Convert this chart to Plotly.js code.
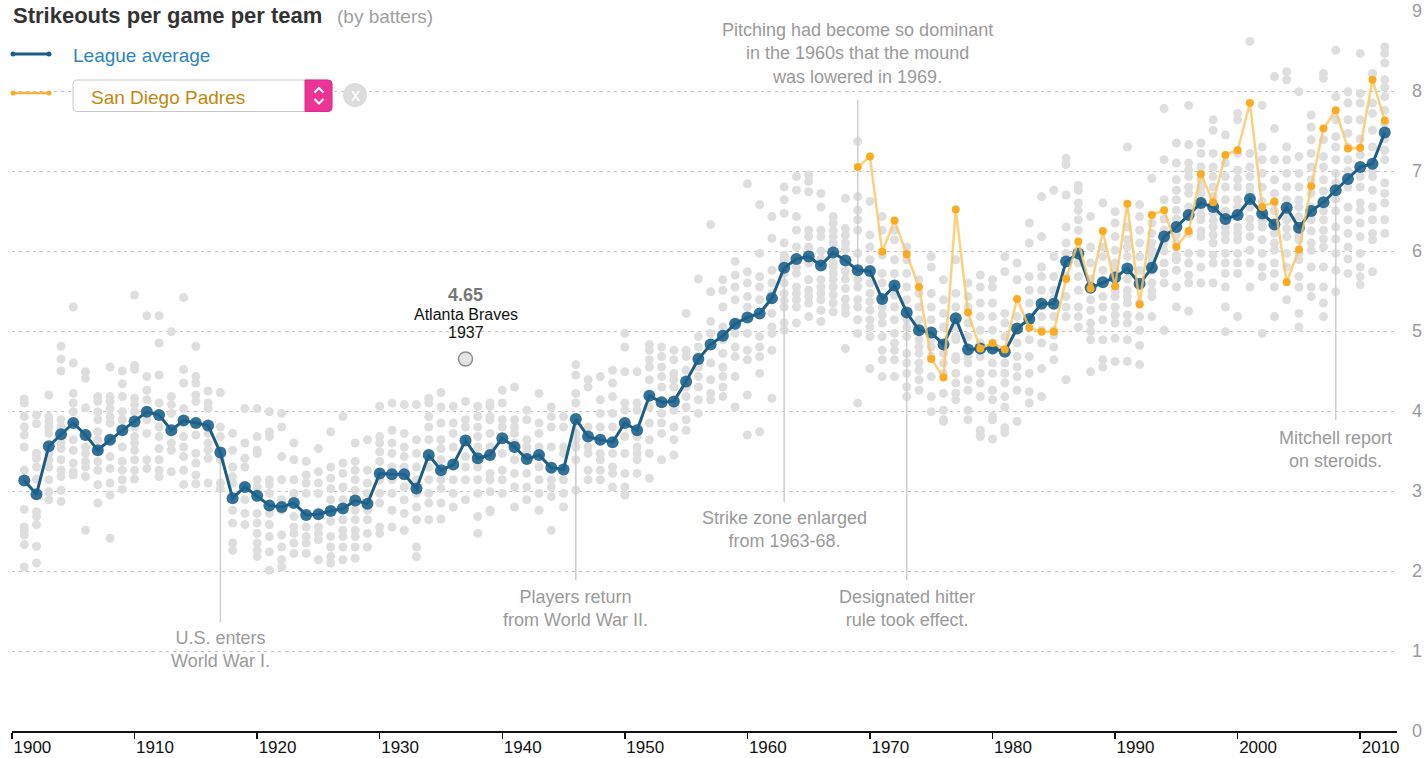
<!DOCTYPE html>
<html><head><meta charset="utf-8">
<script src="https://cdn.plot.ly/plotly-3.0.1.min.js"></script>
<style>html,body{margin:0;padding:0;background:#fff;} #chart{width:1428px;height:758px;}</style>
</head><body><div id="chart"></div>
<script>
// ---------------- DATA ----------------
const leagueStart = 1901;
const leagueAvg = [
 3.13,2.96,3.56,3.71,3.85,3.70,3.51,3.64,3.76,
 3.87,3.99,3.95,3.76,3.88,3.85,3.82,3.48,2.91,3.05,
 2.94,2.82,2.80,2.85,2.70,2.71,2.75,2.78,2.88,2.84,
 3.22,3.21,3.21,3.03,3.45,3.26,3.33,3.63,3.41,3.45,
 3.66,3.55,3.40,3.45,3.29,3.27,3.90,3.68,3.64,3.61,
 3.85,3.76,4.19,4.11,4.12,4.37,4.65,4.83,4.94,5.09,
 5.17,5.22,5.41,5.79,5.90,5.93,5.82,5.98,5.88,5.76,
 5.75,5.40,5.57,5.23,5.01,4.98,4.83,5.16,4.77,4.78,
 4.78,4.74,5.03,5.15,5.34,5.34,5.87,5.97,5.54,5.61,
 5.67,5.78,5.59,5.79,6.18,6.30,6.45,6.60,6.55,6.40,
 6.45,6.65,6.47,6.33,6.54,6.29,6.50,6.61,6.76,6.90,
 7.05,7.09,7.48
];
const padresStart = 1969;
const padres = [
 7.05,7.18,5.99,6.38,5.96,5.55,4.65,4.42,6.52,5.23,
 4.78,4.85,4.77,5.40,5.04,4.99,4.99,5.65,6.12,5.53,
 6.25,5.56,6.59,5.33,6.45,6.51,6.05,6.25,6.96,6.61,
 7.20,7.26,7.85,6.55,6.62,5.61,6.02,6.81,7.53,7.76,
 7.28,7.29,8.14,7.63
];

// every team, grouped by decade (first row = 1901)
const teams1900s = [
 [4.15,4.10,3.93,3.80,3.70,3.55,3.26,3.13,2.77,2.55,2.51,2.45,2.33,2.05],
 [3.95,3.84,3.47,3.41,3.30,3.15,2.97,2.74,2.68,2.58,2.31,2.10],
 [4.20,3.93,3.87,3.80,3.72,3.47,3.39,3.30,3.14,2.99,2.89],
 [4.81,4.65,4.50,3.89,3.80,3.68,3.60,3.53,3.39,3.26,3.18,3.01,2.87],
 [5.30,4.60,4.22,4.10,3.99,3.85,3.64,3.51,3.35,3.24,3.20],
 [4.49,4.41,4.04,3.72,3.55,3.47,3.37,3.30,3.18,2.51],
 [4.18,4.12,3.99,3.89,3.74,3.64,3.51,3.37,3.26,3.08,2.85],
 [4.55,4.18,4.12,4.03,3.93,3.85,3.64,3.43,3.28,3.10,2.95,2.41],
 [4.50,4.34,4.18,3.99,3.89,3.55,3.37,3.26,3.14,3.02]
];
const teams1910s = [
 [5.45,4.57,4.52,4.16,4.08,3.99,3.80,3.68,3.60,3.51,3.39,3.26,3.15],
 [5.19,4.43,4.26,4.14,3.99,3.89,3.72,3.39,3.28],
 [5.19,4.85,4.45,4.10,3.80,3.68,3.53,3.39,3.26,3.18],
 [4.99,4.18,4.08,3.97,3.60,3.51,3.24],
 [5.42,4.52,4.35,4.03,3.89,3.68,3.55,3.43,3.26,3.08],
 [4.81,4.43,4.35,4.20,4.12,3.70,3.47,3.35,3.20,3.09],
 [4.25,4.10,4.03,3.72,3.60,3.51,3.41,3.10],
 [4.23,3.80,3.68,3.39,3.10,3.03],
 [3.72,3.51,3.30,3.18,3.10,2.76,2.60,2.35,2.26],
 [4.03,3.60,3.41,3.30,3.05,2.89,2.72,2.58]
];
const teams1920s = [
 [4.03,3.68,3.51,3.47,3.14,3.05,2.72,2.60,2.47,2.35,2.26,2.18],
 [3.99,3.74,3.68,3.14,3.08,2.97,2.72,2.58,2.43,2.24,2.01],
 [3.97,3.80,3.43,3.14,2.89,2.76,2.45,2.30,2.14,2.05],
 [3.60,3.39,3.14,2.97,2.68,2.55,2.47,2.35,2.22],
 [3.37,3.20,3.10,2.97,2.55,2.43,2.35,2.22],
 [3.53,3.24,3.10,2.97,2.72,2.55,2.47,2.39,2.14],
 [3.74,3.30,3.16,3.03,2.89,2.62,2.43,2.30,2.18,2.10],
 [3.93,3.35,3.22,3.05,2.89,2.64,2.51,2.43,2.30,2.14],
 [3.60,3.37,3.26,3.14,3.01,2.76,2.64,2.51,2.43,2.30,2.16],
 [3.64,3.26,3.10,2.97,2.76,2.64,2.47,2.30]
];
const teams1930s = [
 [4.06,3.68,3.60,3.49,3.37,3.14,2.97,2.85,2.55,2.47],
 [4.10,3.76,3.60,3.47,3.30,3.14,2.97,2.76,2.55],
 [4.08,3.72,3.55,3.43,3.30,3.05,2.89,2.72,2.51],
 [4.08,3.64,3.47,3.30,3.14,2.97,2.80,2.64,2.30,2.18],
 [4.16,4.10,3.93,3.80,3.64,3.30,3.14,2.97,2.85,2.64],
 [4.23,4.05,3.85,3.64,3.53,3.39,3.14,3.03,2.85,2.65],
 [4.06,3.85,3.72,3.55,3.14,2.97,2.80],
 [4.12,3.89,3.80,3.43,3.30,3.14,2.89],
 [4.06,3.93,3.80,3.68,3.55,3.30,3.14,2.97,2.68,2.47],
 [4.10,4.06,3.93,3.89,3.72,3.55,3.22,3.14,2.99,2.76,2.74]
];
const teams1940s = [
 [4.26,4.10,3.89,3.80,3.47,3.26,3.14,2.97],
 [4.30,3.89,3.80,3.72,3.60,3.39,3.22,3.05,2.80],
 [4.01,3.89,3.64,3.55,3.47,3.22,3.05,2.89],
 [4.22,3.85,3.72,3.55,3.30,3.14,2.97,2.76],
 [4.05,3.93,3.80,3.55,3.14,3.05,2.93,2.51],
 [3.93,3.80,3.55,3.47,3.14,2.97,2.80],
 [4.58,4.45,4.22,4.10,3.72,3.64,3.55,3.39,3.01],
 [4.39,4.30,3.80,3.55,3.47,3.26,3.14],
 [4.43,4.14,3.97,3.80,3.47,3.39,3.26,3.14],
 [4.51,4.35,4.18,3.97,3.80,3.47,3.30,3.22,3.05]
];
const teams1950s = [
 [4.97,4.80,4.49,4.10,4.01,3.68,3.47,3.22,3.05,2.95],
 [4.49,4.10,4.01,3.68,3.55,3.47,3.39,3.22],
 [4.83,4.76,4.64,4.55,4.39,4.05,3.85,3.64,3.47,3.16],
 [4.80,4.68,4.55,4.43,4.30,3.97,3.85,3.72,3.39],
 [4.76,4.64,4.47,4.39,4.30,4.01,3.80,3.64,3.45],
 [5.22,4.76,4.68,4.51,4.30,4.18,4.05,3.89,3.76],
 [5.65,4.93,4.80,4.68,4.55,4.43,4.30,4.14,3.97],
 [6.33,5.49,5.12,4.97,4.60,4.39,4.22,4.14],
 [5.64,5.51,5.30,5.05,4.89,4.72,4.55,4.43,4.30,4.18],
 [5.87,5.70,5.55,5.39,5.10,4.97,4.80,4.68,4.43,4.05]
];
const teams1960s = [
 [6.84,5.74,5.60,5.43,5.30,4.97,4.76,4.64,4.20,3.70],
 [6.58,5.97,5.68,5.55,5.39,4.93,4.80,4.68,4.47,3.74],
 [6.43,6.16,5.76,5.60,5.47,5.22,5.05,4.97,4.76,4.16],
 [6.80,6.64,6.47,6.10,5.95,5.89,5.72,5.60,5.47,5.38,5.30,5.10,5.01],
 [6.93,6.76,6.43,6.26,6.05,5.80,5.72,5.55,5.47,5.39,5.30,5.10],
 [6.95,6.87,6.74,6.26,6.18,6.05,5.85,5.64,5.51,5.43,5.35,5.18],
 [6.72,6.55,6.26,6.18,6.00,5.90,5.64,5.55,5.47,5.39,5.26,5.12],
 [6.43,6.35,6.26,6.18,6.10,5.85,5.80,5.72,5.64,5.55,5.45,5.35,5.24],
 [6.66,6.28,6.20,6.10,6.02,5.75,5.65,5.53,5.40,5.30,5.22,4.78],
 [7.37,6.68,6.51,6.39,6.26,5.97,5.64,5.55,5.39,5.30,5.14,4.97,4.10]
];
const teams1970s = [
 [6.62,6.20,6.05,5.89,5.60,5.47,5.37,5.26,5.14,5.05,4.93,4.53],
 [6.43,6.26,5.95,5.72,5.60,5.30,5.20,5.10,4.93,4.76,4.64,4.43],
 [6.26,6.14,5.89,5.72,5.45,5.30,5.14,4.97,4.85,4.76,4.64,4.43],
 [6.05,5.89,5.72,5.55,5.39,5.15,5.05,4.93,4.72,4.60,4.47,4.30,4.18],
 [5.64,5.47,5.30,5.14,4.89,4.80,4.72,4.60,4.51,4.39,4.26],
 [5.93,5.80,5.47,5.30,5.14,4.90,4.80,4.68,4.43,4.18,3.99],
 [5.64,5.39,5.22,5.05,4.72,4.60,4.47,4.22,4.01,3.89,3.87],
 [5.89,5.47,5.30,5.05,4.93,4.89,4.68,4.64,4.47,4.35,4.22,4.14],
 [5.60,5.43,5.30,5.10,4.93,4.68,4.60,4.39,4.26,4.01,3.89],
 [5.70,5.55,5.35,5.18,5.01,4.85,4.68,4.47,4.35,4.18,3.76,3.70,3.68]
];
const teams1980s = [
 [5.64,5.55,5.35,5.18,5.01,4.76,4.60,4.47,4.26,4.14,3.93,3.89,3.65],
 [5.93,5.74,5.22,5.10,4.93,4.60,4.47,4.35,4.18,4.05,3.79,3.73],
 [5.85,5.64,5.18,5.01,4.85,4.68,4.55,4.43,4.26,3.87],
 [6.35,6.10,5.68,5.51,5.35,5.14,4.89,4.68,4.47,4.24,4.10],
 [6.68,6.18,5.80,5.68,5.51,5.18,5.01,4.85,4.53,4.18],
 [6.76,5.93,5.68,5.51,5.40,5.18,5.01,4.95,4.80,4.64],
 [7.16,7.08,6.70,6.30,6.10,5.97,5.68,5.43,5.30,5.18,4.39],
 [6.82,6.76,6.60,6.51,6.39,6.26,5.85,5.68,5.51,5.30,5.18,5.05],
 [6.43,6.05,5.85,5.65,5.39,5.26,5.10,5.00,4.89,4.49],
 [6.60,6.05,5.93,5.76,5.43,5.30,5.14,4.89,4.64,4.55]
];
const teams1990s = [
 [6.49,6.35,6.18,6.01,5.85,5.75,5.50,5.43,5.30,5.20,5.10,4.91,4.62],
 [7.30,6.30,6.14,6.05,5.93,5.65,5.51,5.43,5.35,5.20,5.10,4.89,4.62],
 [6.58,6.43,6.26,6.10,5.93,5.76,5.35,5.18,5.01,4.82,4.58],
 [6.91,6.35,6.22,6.10,6.00,5.93,5.85,5.76,5.60,5.50,5.43,5.18],
 [7.78,7.14,6.64,6.40,6.26,6.10,6.00,5.85,5.72,5.60,5.01],
 [7.35,7.10,6.89,6.76,6.64,6.51,6.40,6.20,6.10,5.95,5.89,5.76,5.55,5.30],
 [7.82,7.33,7.10,7.01,6.93,6.80,6.72,6.55,6.22,5.97,5.85,5.70,5.60,5.25],
 [7.35,7.22,7.05,6.89,6.80,6.72,6.62,6.55,6.45,6.39,6.25,6.18,5.97,5.80,5.60],
 [7.64,7.51,7.22,7.05,6.93,6.80,6.68,6.47,6.38,6.30,6.20,6.10,5.95,5.85,5.60],
 [7.45,7.10,6.93,6.80,6.64,6.50,6.30,6.22,6.14,5.97,5.85,5.72,5.55,5.30,4.99]
];
const teams2000s = [
 [7.72,7.64,7.22,7.01,6.90,6.80,6.64,6.55,6.30,6.22,6.14,5.97,5.85,5.72,5.18],
 [8.62,7.22,7.05,6.93,6.80,6.72,6.55,6.40,6.30,6.18,6.01,5.85,5.55],
 [7.82,7.30,7.14,6.97,6.80,6.62,6.38,6.30,6.14,5.97,5.80,5.68,4.97],
 [8.18,7.53,7.14,6.89,6.72,6.60,6.50,6.22,6.10,6.01,5.85,5.72,5.55,5.18],
 [8.24,8.14,7.30,7.14,6.97,6.80,6.64,6.45,6.39,6.28,6.18,5.97,5.80,5.39],
 [7.99,7.18,6.97,6.80,6.64,6.55,6.43,6.20,6.14,5.97,5.89,5.68,5.55,5.22,5.05],
 [7.70,7.55,7.39,7.22,7.05,6.89,6.72,6.55,6.39,6.25,6.10,6.01,5.80,5.55,5.43],
 [8.22,8.16,7.39,7.18,7.05,6.89,6.75,6.50,6.39,6.26,6.15,6.05,5.80,5.55,5.35,5.18],
 [8.51,7.93,7.64,7.43,7.30,7.14,6.97,6.85,6.65,6.50,6.30,6.15,5.97,5.76,5.49],
 [7.99,7.85,7.64,7.47,7.30,7.14,7.00,6.80,6.55,6.39,6.22,6.05,5.90,5.72]
];
const teams2010s = [
 [8.47,7.97,7.85,7.64,7.40,7.20,6.93,6.80,6.60,6.51,6.35,6.18,5.97,5.80,5.68,5.58],
 [8.22,7.85,7.72,7.51,7.30,7.01,6.93,6.76,6.55,6.39,6.22,6.14,5.74],
 [8.55,8.47,8.35,8.14,8.05,7.93,7.76,7.60,7.40,7.26,7.14,6.85,6.72,6.60,6.39,6.22]
];

// highlighted point
const hoverTeam = "Atlanta Braves";
const hoverYear = 1937;
const hoverValue = 4.65;

// event notes
const noteYears = [1917, 1946, 1963, 1969, 1973, 2008];
const noteLines = [
 ["U.S. enters", "World War I."],
 ["Players return", "from World War II."],
 ["Strike zone enlarged", "from 1963-68."],
 ["Pitching had become so dominant", "in the 1960s that the mound", "was lowered in 1969."],
 ["Designated hitter", "rule took effect."],
 ["Mitchell report", "on steroids."]
];

const xTicks = [1900,1910,1920,1930,1940,1950,1960,1970,1980,1990,2000,2010];
const yTicks = [0,1,2,3,4,5,6,7,8,9];

// ---------------- BUILD ----------------
const FONT = "'Liberation Sans', Arial, Helvetica, sans-serif";
const years = leagueAvg.map((_, i) => leagueStart + i);
const padresYears = padres.map((_, i) => padresStart + i);
const teamsByYear = [].concat(teams1900s, teams1910s, teams1920s, teams1930s, teams1940s,
  teams1950s, teams1960s, teams1970s, teams1980s, teams1990s, teams2000s, teams2010s);
const gx = [], gy = [];
teamsByYear.forEach((vals, i) => vals.forEach(v => { gx.push(leagueStart + i); gy.push(v); }));

// layout geometry (pixels) for decorations
const PL = 12, PR = 1397, PT = 11, PB = 731;
const px = x => (x - PL) / (PR - PL);
const py = y => (PB - y) / (PB - PT);
const dv = y => (PB - y) / 80; // pixel row -> data value

// where note leader lines end and where the texts sit (pixel rows)
const noteLineEnd = [622, 580, 502, 100, 580, 420];
const noteTextMid = [649.5, 608.5, 529.5, 53, 608.5, 449];
const avgAt = yr => leagueAvg[yr - leagueStart];

const traces = [];
traces.push({x: gx, y: gy, mode: 'markers', type: 'scatter', hoverinfo: 'skip',
  marker: {size: 9, color: '#dedede'}});
noteYears.forEach((yr, i) => {
  traces.push({x: [yr, yr], y: [yr === 2008 ? avgAt(yr) + 0.22 : avgAt(yr), dv(noteLineEnd[i])],
    mode: 'lines', type: 'scatter', hoverinfo: 'skip', line: {color: '#cdcdcd', width: 1.5}});
});
traces.push({x: years, y: leagueAvg, mode: 'lines+markers', type: 'scatter', hoverinfo: 'skip',
  line: {color: '#1c5d86', width: 3}, marker: {size: 12, color: 'rgba(30,98,140,0.9)'}});
traces.push({x: padresYears, y: padres, mode: 'lines', type: 'scatter', hoverinfo: 'skip',
  line: {color: 'rgba(252,196,96,0.8)', width: 2.5}});
traces.push({x: padresYears, y: padres, mode: 'markers', type: 'scatter', hoverinfo: 'skip',
  marker: {size: 8, color: '#fbab1f'}});
traces.push({x: [hoverYear], y: [hoverValue], mode: 'markers', type: 'scatter', hoverinfo: 'skip',
  marker: {size: 14, color: '#e4e4e4', line: {color: '#8e8e8e', width: 1.5}}});

const annotations = [];
noteYears.forEach((yr, i) => {
  annotations.push({x: yr, y: dv(noteTextMid[i]), xref: 'x', yref: 'y', showarrow: false,
    xanchor: 'center', yanchor: 'middle', align: 'center', text: noteLines[i].join('<br>'),
    font: {family: FONT, size: 18, color: '#9a9a9a'}});
});
annotations.push({x: hoverYear, y: dv(295), xref: 'x', yref: 'y', showarrow: false,
  text: '<b>' + hoverValue.toFixed(2) + '</b>', font: {family: FONT, size: 18, color: '#777'}});
annotations.push({x: hoverYear, y: dv(314), xref: 'x', yref: 'y', showarrow: false,
  text: hoverTeam, font: {family: FONT, size: 16, color: '#111'}});
annotations.push({x: hoverYear, y: dv(332), xref: 'x', yref: 'y', showarrow: false,
  text: String(hoverYear), font: {family: FONT, size: 16, color: '#111'}});

// title & legend
annotations.push({x: px(11), y: py(16), xref: 'paper', yref: 'paper', xanchor: 'left', yanchor: 'middle',
  showarrow: false, text: '<b>Strikeouts per game per team</b>', font: {family: FONT, size: 22, color: '#333'}});
annotations.push({x: px(335), y: py(17), xref: 'paper', yref: 'paper', xanchor: 'left', yanchor: 'middle',
  showarrow: false, text: '(by batters)', font: {family: FONT, size: 19, color: '#a0a0a0'}});
annotations.push({x: px(71), y: py(55), xref: 'paper', yref: 'paper', xanchor: 'left', yanchor: 'middle',
  showarrow: false, text: 'League average', font: {family: FONT, size: 19, color: '#2a86bd'}});
annotations.push({x: px(89), y: py(97), xref: 'paper', yref: 'paper', xanchor: 'left', yanchor: 'middle',
  showarrow: false, text: 'San Diego Padres', font: {family: FONT, size: 19, color: '#c4860f'}});
annotations.push({x: px(355), y: py(95), xref: 'paper', yref: 'paper', xanchor: 'center', yanchor: 'middle',
  showarrow: false, text: 'x', font: {family: FONT, size: 18, color: '#ffffff'}});

function rrect(x0, y0, x1, y1, rl, rr) {
  const P = (x, y) => px(x) + ',' + py(y);
  return 'M' + P(x0 + rl, y0) + ' L' + P(x1 - rr, y0) + ' Q' + P(x1, y0) + ' ' + P(x1, y0 + rr) +
    ' L' + P(x1, y1 - rr) + ' Q' + P(x1, y1) + ' ' + P(x1 - rr, y1) +
    ' L' + P(x0 + rl, y1) + ' Q' + P(x0, y1) + ' ' + P(x0, y1 - rl) +
    ' L' + P(x0, y0 + rl) + ' Q' + P(x0, y0) + ' ' + P(x0 + rl, y0) + ' Z';
}
const pp = {xref: 'paper', yref: 'paper'};
const shapes = [
  Object.assign({type: 'rect', x0: px(0), x1: px(448), y0: py(0), y1: py(30), fillcolor: '#fff', line: {width: 0}, layer: 'between'}, pp),
  Object.assign({type: 'rect', x0: px(0), x1: px(372), y0: py(40), y1: py(114), fillcolor: '#fff', line: {width: 0}, layer: 'between'}, pp),
  // legend swatches
  Object.assign({type: 'line', x0: px(13), x1: px(49), y0: py(54), y1: py(54), line: {color: '#1c5d86', width: 3}}, pp),
  Object.assign({type: 'circle', x0: px(10.5), x1: px(15.5), y0: py(51.5), y1: py(56.5), fillcolor: '#1c5d86', line: {width: 0}}, pp),
  Object.assign({type: 'circle', x0: px(46.5), x1: px(51.5), y0: py(51.5), y1: py(56.5), fillcolor: '#1c5d86', line: {width: 0}}, pp),
  Object.assign({type: 'line', x0: px(13), x1: px(49), y0: py(93), y1: py(93), line: {color: '#fbb23a', width: 2.5}}, pp),
  Object.assign({type: 'circle', x0: px(10.5), x1: px(15.5), y0: py(90.5), y1: py(95.5), fillcolor: '#fbab1f', line: {width: 0}}, pp),
  Object.assign({type: 'circle', x0: px(46.5), x1: px(51.5), y0: py(90.5), y1: py(95.5), fillcolor: '#fbab1f', line: {width: 0}}, pp),
  // dropdown
  Object.assign({type: 'path', path: rrect(73, 80, 332, 111.5, 4, 4), fillcolor: '#fff', line: {color: '#c9c9c9', width: 1}}, pp),
  Object.assign({type: 'path', path: rrect(305, 80, 332, 111.5, 0, 4), fillcolor: '#ea3597', line: {color: '#e2288c', width: 1}}, pp),
  Object.assign({type: 'path', path: 'M' + px(314.5) + ',' + py(92.5) + ' L' + px(319) + ',' + py(88) + ' L' + px(323.5) + ',' + py(92.5),
    line: {color: '#fff', width: 2}}, pp),
  Object.assign({type: 'path', path: 'M' + px(314.5) + ',' + py(99) + ' L' + px(319) + ',' + py(103.5) + ' L' + px(323.5) + ',' + py(99),
    line: {color: '#fff', width: 2}}, pp),
  Object.assign({type: 'circle', x0: px(343), x1: px(367), y0: py(83), y1: py(107), fillcolor: '#dcdcdc', line: {width: 0}}, pp)
];

const layout = {
  width: 1428, height: 758,
  margin: {l: PL, r: 1428 - PR, t: PT, b: 758 - PB, pad: 0},
  paper_bgcolor: '#fff', plot_bgcolor: '#fff',
  showlegend: false, hovermode: false,
  font: {family: FONT},
  xaxis: {range: [1900, 2013], tickvals: xTicks, ticktext: xTicks.map(String),
    showgrid: false, zeroline: false, showline: true, linecolor: '#111', linewidth: 1.5,
    ticks: 'outside', ticklen: 6, tickwidth: 1.5, tickcolor: '#111',
    ticklabelposition: 'outside right', tickfont: {family: FONT, size: 17, color: '#111'}, fixedrange: true},
  yaxis: {range: [0, 9], side: 'right', tickvals: yTicks, ticktext: yTicks.map(String),
    showgrid: true, gridcolor: '#c4c4c4', gridwidth: 1, griddash: '3px,4px', zeroline: false,
    showline: false, ticks: '', ticklabelstandoff: 14,
    tickfont: {family: FONT, size: 18, color: '#9a9a9a'}, fixedrange: true},
  annotations: annotations,
  shapes: shapes
};

Plotly.newPlot('chart', traces, layout, {staticPlot: true, displayModeBar: false});
</script>
</body></html>
